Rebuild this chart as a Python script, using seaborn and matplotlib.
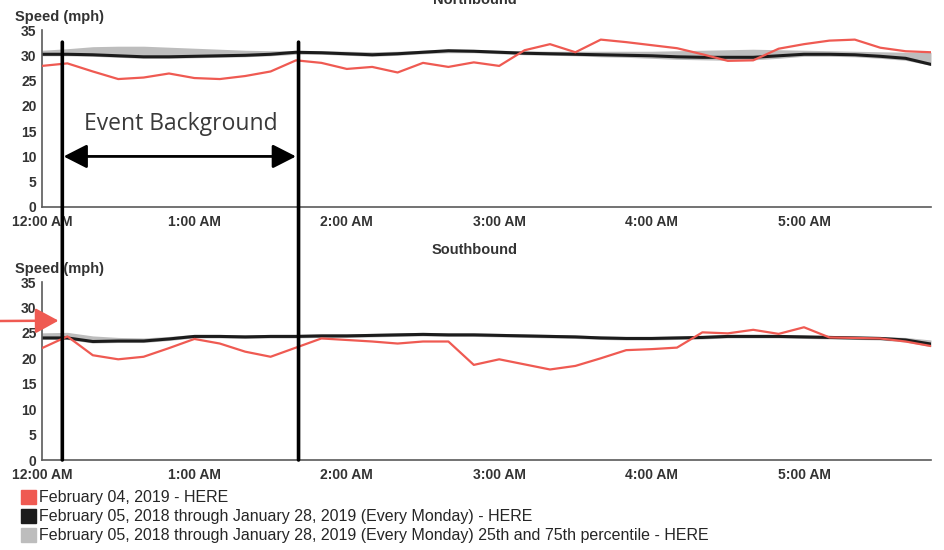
import numpy as np
import matplotlib
matplotlib.use('Agg')
import matplotlib.pyplot as plt
import seaborn as sns
from matplotlib.patches import Patch, ConnectionPatch, ArrowStyle

# 10 minute samples, 12:00 AM .. 5:50 AM
minutes = np.arange(0, 351, 10)
tick_minutes = [0, 60, 120, 180, 240, 300]
tick_labels = ['12:00 AM', '1:00 AM', '2:00 AM', '3:00 AM', '4:00 AM', '5:00 AM']
y_ticks = [0, 5, 10, 15, 20, 25, 30, 35]

# Northbound
north_event = [27.9, 28.4, 26.8, 25.3, 25.6, 26.4, 25.5, 25.3, 25.9, 26.8, 29.0, 28.5,
               27.3, 27.7, 26.6, 28.5, 27.7, 28.6, 27.9, 31.0, 32.2, 30.6, 33.1, 32.6,
               32.0, 31.4, 30.2, 28.9, 29.0, 31.3, 32.2, 32.9, 33.1, 31.5, 30.8, 30.6]
north_typical = [30.2, 30.2, 30.1, 29.9, 29.7, 29.7, 29.8, 29.9, 30.0, 30.2, 30.6, 30.5,
                 30.3, 30.1, 30.3, 30.6, 30.9, 30.8, 30.6, 30.4, 30.3, 30.2, 30.1, 30.0,
                 29.9, 29.7, 29.6, 29.6, 29.6, 29.9, 30.2, 30.2, 30.1, 29.8, 29.4, 28.2]
north_p25 = [29.9, 29.9, 29.8, 29.6, 29.4, 29.4, 29.5, 29.6, 29.7, 29.9, 30.2, 30.2,
             30.0, 29.8, 30.0, 30.3, 30.5, 30.5, 30.3, 30.1, 30.0, 29.9, 29.7, 29.6,
             29.4, 29.2, 29.1, 29.0, 29.1, 29.4, 29.8, 29.8, 29.7, 29.4, 29.0, 28.0]
north_p75 = [31.0, 31.3, 31.7, 31.8, 31.8, 31.6, 31.4, 31.2, 31.0, 30.9, 30.9, 30.9,
             30.8, 30.7, 30.8, 31.0, 31.1, 31.1, 31.0, 30.9, 30.8, 30.8, 30.8, 30.8,
             30.8, 30.9, 31.0, 31.1, 31.2, 31.1, 31.0, 30.9, 30.8, 30.7, 30.6, 30.6]

# Southbound
south_event = [22.0, 24.3, 20.6, 19.8, 20.3, 22.0, 23.8, 22.9, 21.3, 20.3, 22.1, 23.9,
               23.6, 23.3, 22.9, 23.3, 23.3, 18.7, 19.8, 18.8, 17.8, 18.5, 20.0, 21.6,
               21.8, 22.1, 25.1, 24.9, 25.6, 24.8, 26.1, 24.1, 24.0, 23.9, 23.3, 22.4]
south_typical = [24.0, 24.0, 23.3, 23.4, 23.4, 23.8, 24.3, 24.3, 24.2, 24.3, 24.3, 24.4,
                 24.4, 24.5, 24.6, 24.7, 24.6, 24.6, 24.5, 24.4, 24.3, 24.2, 24.0, 23.9,
                 23.9, 24.0, 24.1, 24.3, 24.3, 24.3, 24.2, 24.1, 24.0, 23.9, 23.6, 22.8]
south_p25 = [23.7, 23.7, 23.0, 23.1, 23.1, 23.5, 24.0, 24.0, 23.9, 24.0, 24.0, 24.1,
             24.1, 24.2, 24.3, 24.4, 24.3, 24.3, 24.2, 24.1, 24.0, 23.9, 23.7, 23.6,
             23.6, 23.7, 23.8, 24.0, 24.0, 24.0, 23.9, 23.8, 23.7, 23.6, 23.2, 22.3]
south_p75 = [25.0, 25.1, 24.4, 24.1, 24.0, 24.3, 24.7, 24.7, 24.6, 24.7, 24.7, 24.8,
             24.8, 24.9, 25.0, 25.1, 25.0, 25.0, 24.9, 24.8, 24.7, 24.6, 24.4, 24.3,
             24.3, 24.4, 24.5, 24.7, 24.7, 24.7, 24.6, 24.5, 24.4, 24.3, 24.1, 23.6]

event_start, event_end = 8, 101
legend_labels = ['February 04, 2019 - HERE',
                 'February 05, 2018 through January 28, 2019 (Every Monday) - HERE',
                 'February 05, 2018 through January 28, 2019 (Every Monday) 25th and 75th percentile - HERE']

RED = '#ef5a52'
BLACK = '#1c1c1c'
GRAY = '#bdbdbd'
AXIS = '#5a5a5a'

sns.set_style('white')
plt.rcParams['font.family'] = ['Liberation Sans', 'DejaVu Sans']

fig = plt.figure(figsize=(9.45, 5.5), dpi=100)
W, H = 945, 550
ax1 = fig.add_axes([42 / W, 1 - 207 / H, 889 / W, 177 / H])
ax2 = fig.add_axes([42 / W, 1 - 460 / H, 889 / W, 178 / H])

panels = [(ax1, north_event, north_typical, north_p25, north_p75),
          (ax2, south_event, south_typical, south_p25, south_p75)]
for ax, ev, typ, lo, hi in panels:
    ax.fill_between(minutes, lo, hi, color=GRAY, lw=0, zorder=1)
    sns.lineplot(x=minutes, y=typ, ax=ax, color=BLACK, lw=2.2, zorder=2, legend=False)
    sns.lineplot(x=minutes, y=ev, ax=ax, color=RED, lw=1.6, zorder=3, legend=False)
    ax.set_xlim(0, 350)
    ax.set_ylim(0, 35)
    ax.set_xticks(tick_minutes)
    ax.set_xticklabels(tick_labels)
    ax.set_yticks(y_ticks)
    ax.set_xlabel('')
    ax.set_ylabel('')
    sns.despine(ax=ax)
    for s in ['left', 'bottom']:
        ax.spines[s].set_color(AXIS)
        ax.spines[s].set_linewidth(1.2)
    ax.tick_params(axis='y', direction='out', length=3, width=1, pad=1,
                   color=AXIS, labelsize=10, labelcolor='#333333')
    ax.tick_params(axis='x', direction='inout', length=6, width=1, pad=3,
                   color=AXIS, labelsize=10, labelcolor='#333333')
    for lab in ax.get_xticklabels() + ax.get_yticklabels():
        lab.set_fontweight('bold')

# titles and axis captions
fig.text(475 / W, 1 - 4 / H, 'Northbound', ha='center', va='baseline',
         fontsize=10.5, fontweight='bold', color='#333333')
fig.text(475 / W, 1 - 254 / H, 'Southbound', ha='center', va='baseline',
         fontsize=10.5, fontweight='bold', color='#333333')
fig.text(15 / W, 1 - 21 / H, 'Speed (mph)', ha='left', va='baseline',
         fontsize=10.5, fontweight='bold', color='#333333')
fig.text(15 / W, 1 - 273 / H, 'Speed (mph)', ha='left', va='baseline',
         fontsize=10.5, fontweight='bold', color='#333333')

# event window lines across both panels
for t in [event_start, event_end]:
    con = ConnectionPatch(xyA=(t, 32.6), coordsA=ax1.transData,
                          xyB=(t, 0), coordsB=ax2.transData,
                          color='black', lw=2.6, zorder=5)
    fig.add_artist(con)

head = ArrowStyle('<|-|>', head_length=0.55, head_width=0.28)
ax1.annotate('', xy=(event_end - 1, 10), xytext=(event_start + 0.5, 10),
             arrowprops=dict(arrowstyle=head, mutation_scale=26, lw=2,
                             color='black', shrinkA=0, shrinkB=0))
ax1.text(54.8, 16.4, 'Event Background', ha='center', va='center',
         fontsize=16.5, family='Open Sans', color='#3a3a3a')

# red pointer on the southbound panel
ax2.annotate('', xy=(event_start - 1.5, 27.4), xycoords='data',
             xytext=(0, H - 321), textcoords='figure pixels',
             annotation_clip=False,
             arrowprops=dict(arrowstyle=ArrowStyle('-|>', head_length=0.55, head_width=0.3),
                             mutation_scale=26, lw=1.8, color=RED,
                             shrinkA=0, shrinkB=0))

handles = [Patch(color=RED), Patch(color=BLACK), Patch(color=GRAY)]
fig.legend(handles, legend_labels, loc='upper left',
           bbox_to_anchor=(21 / W, 1 - 490 / H), frameon=False,
           borderpad=0, borderaxespad=0, handlelength=0.95, handleheight=0.95,
           handletextpad=0.2, labelspacing=0.22,
           prop={'family': 'Liberation Sans', 'size': 11.5})

fig.savefig('out.png', dpi=100)
